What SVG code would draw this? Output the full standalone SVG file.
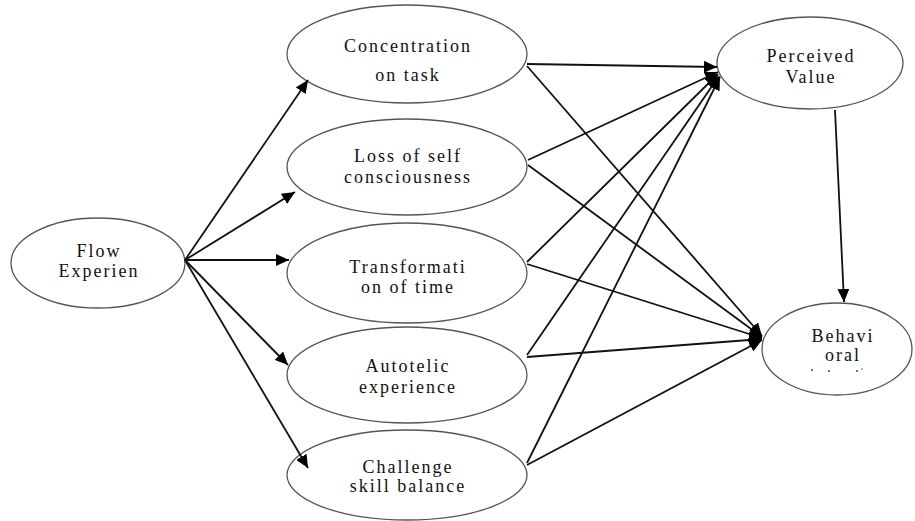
<svg xmlns="http://www.w3.org/2000/svg" width="915" height="521" viewBox="0 0 915 521">
<defs>
<style>
.node ellipse{fill:#fff;stroke:#555;stroke-width:1.3}
.node text{font-family:"Liberation Serif","Times New Roman",serif;font-size:18px;fill:#111;text-anchor:middle;letter-spacing:2px}
#connectors line{stroke:#111;stroke-width:1.8;marker-end:url(#ah)}
</style>
<marker id="ah" markerUnits="userSpaceOnUse" markerWidth="14" markerHeight="12" refX="13" refY="6" orient="auto">
<path d="M0,0 L13,6 L0,12 z" fill="#000"/>
</marker>
</defs>
<rect width="915" height="521" fill="#fff"/>
<g id="flow" class="node">
<ellipse cx="98" cy="263" rx="87" ry="45"/>
<text x="99" y="257">Flow</text>
<text x="99" y="277">Experien</text>
</g>
<g id="concentration" class="node">
<ellipse cx="407" cy="54" rx="120" ry="49"/>
<text x="408" y="52">Concentration</text>
<text x="408" y="81">on task</text>
</g>
<g id="loss" class="node">
<ellipse cx="407" cy="167" rx="120" ry="48"/>
<text x="408" y="162">Loss of self</text>
<text x="408" y="183">consciousness</text>
</g>
<g id="transformation" class="node">
<ellipse cx="407" cy="273" rx="120" ry="50"/>
<text x="408" y="273">Transformati</text>
<text x="408" y="293">on of time</text>
</g>
<g id="autotelic" class="node">
<ellipse cx="407" cy="375" rx="120" ry="48"/>
<text x="408" y="372">Autotelic</text>
<text x="408" y="393">experience</text>
</g>
<g id="challenge" class="node">
<ellipse cx="407" cy="475" rx="120" ry="45"/>
<text x="408" y="473">Challenge</text>
<text x="408" y="492">skill balance</text>
</g>
<g id="perceived" class="node">
<ellipse cx="810" cy="63" rx="93" ry="46"/>
<text x="811" y="62">Perceived</text>
<text x="811" y="83">Value</text>
</g>
<g id="behavioral" class="node">
<ellipse cx="837" cy="349" rx="75" ry="46"/>
<text x="843" y="342">Behavi</text>
<text x="843" y="361">oral</text>
<g fill="#333">
<circle cx="812" cy="370" r="0.9"/>
<circle cx="829" cy="371" r="0.9"/>
<circle cx="857" cy="371" r="0.9"/>
<circle cx="862" cy="369" r="0.7"/>
</g>
</g>
<g id="connectors">
<line x1="185" y1="260" x2="308" y2="80"/>
<line x1="185" y1="260" x2="295" y2="192"/>
<line x1="185" y1="260" x2="289" y2="260"/>
<line x1="185" y1="260" x2="288" y2="365"/>
<line x1="185" y1="260" x2="308" y2="468"/>
<line x1="527" y1="64" x2="717" y2="67"/>
<line x1="528" y1="160" x2="718" y2="72"/>
<line x1="527" y1="262" x2="718" y2="74"/>
<line x1="527" y1="355" x2="719" y2="76"/>
<line x1="527" y1="463" x2="720" y2="77"/>
<line x1="527" y1="66" x2="762" y2="336"/>
<line x1="528" y1="165" x2="762" y2="337"/>
<line x1="527" y1="264" x2="762" y2="338"/>
<line x1="527" y1="357" x2="762" y2="339"/>
<line x1="527" y1="465" x2="762" y2="340"/>
<line x1="835" y1="110" x2="844" y2="302"/>
</g>
</svg>
